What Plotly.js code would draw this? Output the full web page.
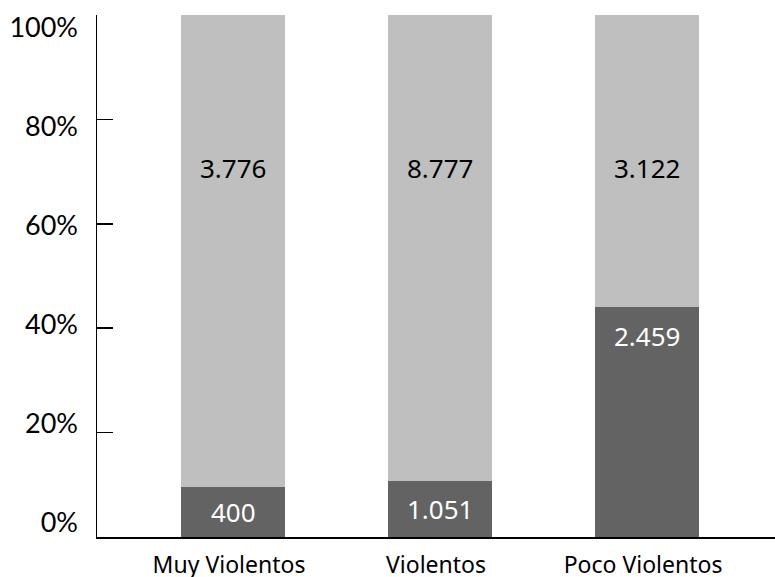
<!DOCTYPE html>
<html>
<head>
<meta charset="utf-8">
<script src="https://cdn.plot.ly/plotly-3.0.1.min.js"></script>
<style>html,body{margin:0;padding:0;background:#fff;}#chart{width:775px;height:577px;}</style>
</head>
<body>
<div id="chart"></div>
<script>
const categories = ['Muy Violentos', 'Violentos', 'Poco Violentos'];
const darkValues = [400, 1051, 2459];
const lightValues = [3776, 8777, 3122];
const yTickVals = [0, 20, 40, 60, 80, 100];
const yTickText = ['0%', '20%', '40%', '60%', '80%', '100%'];

function fmt(n) {
  return String(n).replace(/\B(?=(\d{3})+(?!\d))/g, '.');
}

const DARK = '#636363';
const LIGHT = '#bfbfbf';

const traces = [
  {type: 'bar', x: categories, y: darkValues, marker: {color: DARK}, width: 0.5, hoverinfo: 'none', showlegend: false},
  {type: 'bar', x: categories, y: lightValues, marker: {color: LIGHT}, width: 0.5, hoverinfo: 'none', showlegend: false},
  // invisible trace to activate secondary axis for offset tick labels
  {type: 'scatter', x: categories, y: [null, null, null], yaxis: 'y2', hoverinfo: 'none', showlegend: false}
];

const annotations = [];
categories.forEach((c, i) => {
  const total = darkValues[i] + lightValues[i];
  const pct = darkValues[i] / total * 100;
  annotations.push({
    x: c, y: pct < 20 ? pct / 2 : pct - 5.6, xref: 'x', yref: 'y',
    text: fmt(darkValues[i]), showarrow: false, yanchor: 'middle',
    font: {family: 'Noto Sans', size: 26, color: '#ffffff'}
  });
  annotations.push({
    x: c, y: 70.7, xref: 'x', yref: 'y',
    text: fmt(lightValues[i]), showarrow: false, yanchor: 'middle',
    font: {family: 'Noto Sans', size: 26, color: '#000000'}
  });
});

const layout = {
  width: 775, height: 577,
  margin: {l: 97, r: 0, t: 15, b: 40, pad: 0},
  paper_bgcolor: '#ffffff', plot_bgcolor: '#ffffff',
  barmode: 'stack', barnorm: 'percent', bargap: 0.5,
  showlegend: false,
  xaxis: {
    type: 'category', range: [-0.657, 2.618],
    showline: true, linecolor: '#000', linewidth: 1.5,
    ticks: '', showgrid: false, zeroline: false,
    ticklabelstandoff: 7, ticklabelshift: -4,
    tickfont: {family: 'Noto Sans', size: 23, color: '#000'}
  },
  yaxis: {
    range: [0, 100], tickvals: yTickVals, showticklabels: false,
    ticks: 'inside', ticklen: 16, tickwidth: 1.5, tickcolor: '#000',
    showline: true, linecolor: '#000', linewidth: 1.5,
    showgrid: false, zeroline: false
  },
  yaxis2: {
    overlaying: 'y', side: 'left', range: [-2.83, 102.63],
    tickvals: yTickVals, ticktext: yTickText, ticks: '',
    showline: false, showgrid: false, zeroline: false,
    ticklabelstandoff: 18,
    tickfont: {family: 'Lato', size: 27, color: '#000'}
  },
  annotations: annotations
};

Plotly.newPlot('chart', traces, layout, {displayModeBar: false, staticPlot: true});
</script>
</body>
</html>
